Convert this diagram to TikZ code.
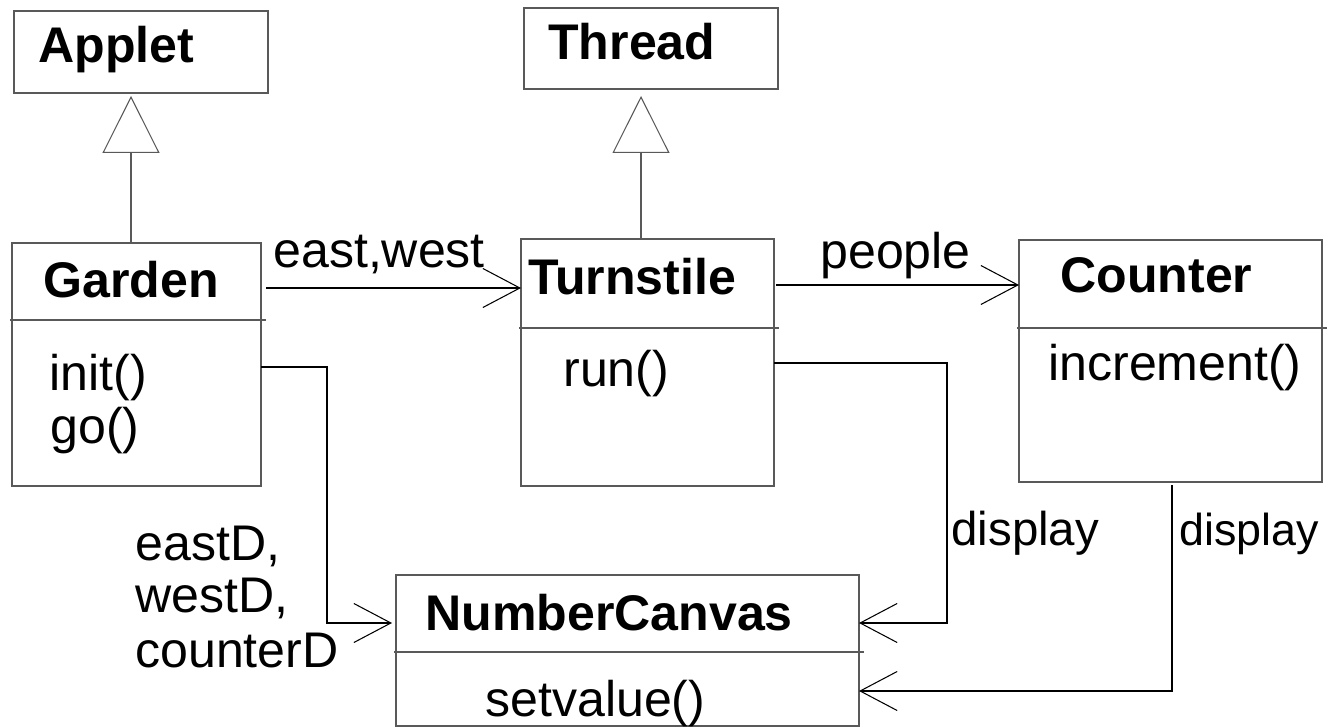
\documentclass[tikz,border=0pt]{standalone}
\usepackage{fontspec}
\setmainfont{Liberation Sans}
\usetikzlibrary{positioning}
\usetikzlibrary{arrows.meta}

\begin{document}
\begin{tikzpicture}[
        box/.style 2 args = {
            draw = black!65,
            line width = 0.6pt,
            rectangle,
            minimum width = #1,
            minimum height = #2,
            inner sep = 0pt,
            outer sep = 0pt
        },
        head/.style = {font=\fontsize{28.5}{30}\selectfont\bfseries, inner sep=0pt, anchor=base west},
        txt/.style = {font=\fontsize{28.5}{30}\selectfont, inner sep=0pt, anchor=base west},
        assoc/.style = {-{Straight Barb[length=0.74cm, width=0.78cm]}, line width=0.6pt},
        inherit/.style = {-{Triangle[open, length=1.14cm, width=1.14cm]}, line width=0.6pt, draw=black!65}
        ]
        \useasboundingbox (0,0) rectangle (26.54,-14.56);
%
        \node[box={5.08cm}{1.64cm}, anchor=north west] (applet) at (0.28,-0.22) {};
        \node[head] (appletT) at (0.76,-1.26) {Applet};
        \node[box={5.08cm}{1.62cm}, anchor=north west] (thread) at (10.48,-0.16) {};
        \node[head] (threadT) at (10.96,-1.20) {Thread};
%
        \node[box={4.98cm}{1.54cm}, anchor=north west] (gardenH) at (0.24,-4.86) {};
        \node[box={4.98cm}{3.32cm}, below=0pt of gardenH] (gardenB) {};
        \node[head] (gardenT) at (0.86,-5.96) {Garden};
        \node[txt] (initT) at (0.98,-7.80) {init()};
        \node[txt] (goT) at (1.00,-8.86) {go()};
%
        \node[box={5.06cm}{1.78cm}, anchor=north west] (turnH) at (10.42,-4.78) {};
        \node[box={5.06cm}{3.16cm}, below=0pt of turnH] (turnB) {};
        \node[head] (turnT) at (10.56,-5.90) {Turnstile};
        \node[txt] (runT) at (11.26,-7.74) {run()};
%
        \node[box={6.06cm}{1.76cm}, anchor=north west] (counterH) at (20.38,-4.80) {};
        \node[box={6.06cm}{3.08cm}, below=0pt of counterH] (counterB) {};
        \node[head] (counterT) at (21.20,-5.86) {Counter};
        \node[txt] (incT) at (20.96,-7.60) {increment()};
%
        \node[box={9.26cm}{1.54cm}, anchor=north west] (canvasH) at (7.92,-11.50) {};
        \node[box={9.26cm}{1.48cm}, below=0pt of canvasH] (canvasB) {};
        \node[head] (canvasT) at (8.50,-12.60) {NumberCanvas};
        \node[txt] (setT) at (9.70,-14.32) {setvalue()};
%
        \foreach \b in {gardenB, turnB, counterB, canvasB}
            \draw[black!65, line width=0.6pt] ([xshift=-0.04cm]\b.north west) -- ([xshift=0.1cm]\b.north east);
%
        \node[txt] (ewL) at (5.46,-5.36) {east,west};
        \node[txt] (pplL) at (16.40,-5.38) {people};
        \node[txt, font=\fontsize{27}{29}\selectfont] (dispL) at (19.02,-10.90) {display};
        \node[txt, font=\fontsize{25.5}{28}\selectfont] (dispR) at (23.58,-10.90) {display};
        \node[txt] (eastL) at (2.70,-11.20) {eastD,};
        \node[txt] (westL) at (2.70,-12.24) {westD,};
        \node[txt] (cntL) at (2.70,-13.34) {counterD};
%
        \coordinate (gardenUp) at ([xshift=-0.11cm]gardenH.north);
        \coordinate (turnUp) at ([xshift=-0.13cm]turnH.north);
        \draw[inherit, shorten >=0.06cm] (gardenUp) -- (gardenUp |- applet.south);
        \draw[inherit, shorten >=0.14cm] (turnUp) -- (turnUp |- thread.south);
%
        \coordinate (ewOut) at ([yshift=-0.13cm]gardenH.east);
        \draw[assoc, shorten <=0.1cm] (ewOut) -- (ewOut -| turnH.west);
        \coordinate (pplOut) at ([yshift=-0.03cm]turnH.east);
        \draw[assoc, shorten <=0.04cm] (pplOut) -- (pplOut -| counterH.west);
%
        \coordinate (gardenOut) at ([yshift=0.72cm]gardenB.east);
        \coordinate (canvasInL) at ([yshift=-0.19cm]canvasH.west);
        \draw[assoc, shorten >=0.08cm] (gardenOut) -- ++(1.32,0) |- (canvasInL);
%
        \coordinate (turnOut) at ([yshift=0.88cm]turnB.east);
        \coordinate (canvasInR) at ([yshift=-0.19cm]canvasH.east);
        \draw[assoc] (turnOut) -- ++(3.46,0) |- (canvasInR);
%
        \coordinate (counterOut) at ([xshift=0.03cm, yshift=-0.06cm]counterB.south);
        \coordinate (canvasInB) at ([yshift=-0.04cm]canvasB.east);
        \draw[assoc] (counterOut) |- (canvasInB);
%
    \end{tikzpicture}
\end{document}
